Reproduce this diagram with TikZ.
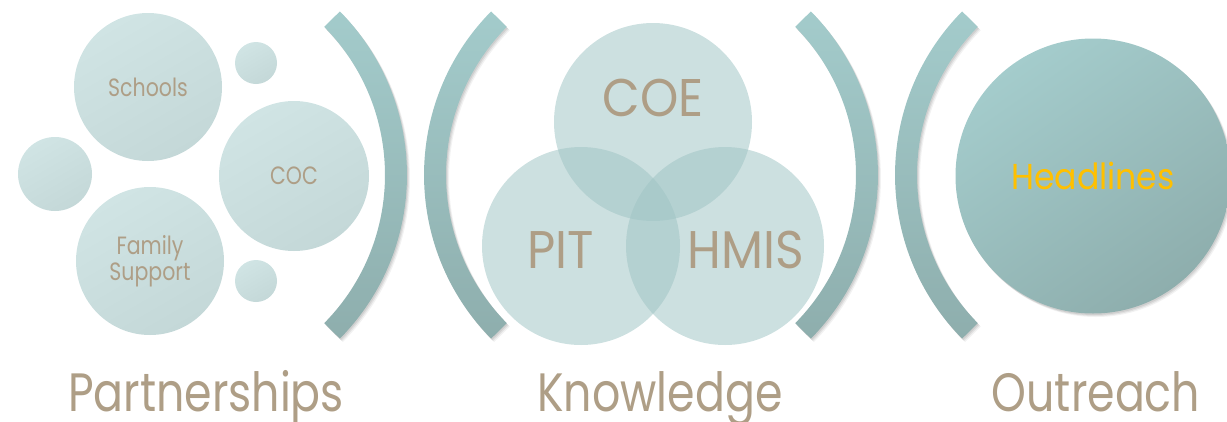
\documentclass[tikz,border=0pt]{standalone}
\usepackage{fontspec}
\newfontfamily\twfont[FakeStretch=0.82]{Poppins}
\newfontfamily\twwide[FakeStretch=0.92]{Poppins}
\usetikzlibrary{calc,shadows}
\definecolor{taupe}{HTML}{AE9E86}
\definecolor{bubA}{HTML}{D0E4E4}
\definecolor{bubB}{HTML}{C4D8D8}
\definecolor{vennC}{HTML}{9FC4C4}
\definecolor{brA}{HTML}{A3CBCB}
\definecolor{brB}{HTML}{8EAEAD}
\definecolor{headA}{HTML}{A4CCCC}
\definecolor{headB}{HTML}{8EAEAD}
\definecolor{gold}{HTML}{FFC000}
\begin{document}
\begin{tikzpicture}[x=1pt,y=-1pt,
  softshadow/.style={
    general shadow={fill=black,opacity=.05,shadow xshift=3pt,shadow yshift=-3.5pt},
    general shadow={fill=black,opacity=.07,shadow xshift=2pt,shadow yshift=-2.5pt},
    general shadow={fill=black,opacity=.08,shadow xshift=1pt,shadow yshift=-1.5pt}},
  bracket/.style={softshadow,top color=brA,bottom color=brB},
  bub/.style={circle,inner sep=0pt,top color=bubA,bottom color=bubB,shading angle=30,
    text=taupe,align=center,font=\twfont\fontsize{25}{27}\selectfont},
  venn/.style={circle,inner sep=0pt,fill=vennC,fill opacity=0.53},
  vlbl/.style={text=taupe,font=\twwide\fontsize{53}{53}\selectfont,inner sep=0pt},
  bottomlbl/.style={text=taupe,anchor=base,inner sep=0pt,font=\twfont\fontsize{54}{54}\selectfont},
  headc/.style={circle,inner sep=0pt,softshadow,top color=headA,bottom color=headB,shading angle=35,
    text=gold,font=\twwide\fontsize{36}{36}\selectfont}
]
\useasboundingbox (0,0) rectangle (1227,421);

% brackets
\path[bracket] ($(174,175)+(-44.6:233)$) arc[start angle=-44.6,end angle=44.6,radius=233]
  -- ($(174,175)+(44.6:211)$) arc[start angle=44.6,end angle=-44.6,radius=211] -- cycle;
\path[bracket] ($(657,175)+(135.4:233)$) arc[start angle=135.4,end angle=224.6,radius=233]
  -- ($(657,175)+(224.6:211)$) arc[start angle=224.6,end angle=135.4,radius=211] -- cycle;
\path[bracket] ($(645,175)+(-44.6:233)$) arc[start angle=-44.6,end angle=44.6,radius=233]
  -- ($(645,175)+(44.6:211)$) arc[start angle=44.6,end angle=-44.6,radius=211] -- cycle;
\path[bracket] ($(1128,175)+(135.4:233)$) arc[start angle=135.4,end angle=224.6,radius=233]
  -- ($(1128,175)+(224.6:211)$) arc[start angle=224.6,end angle=135.4,radius=211] -- cycle;

% partnerships bubbles
\node[bub,minimum size=148pt] (schools) at (148,87) {Schools};
\node[bub,minimum size=42pt] (small1) at (256,63) {};
\node[bub,minimum size=74pt] (left) at (55,174) {};
\node[bub,minimum size=150pt] (coc) at (294,176) {COC};
\node[bub,minimum size=148pt] (family) at (150,261) {Family\\[-1pt]Support};
\node[bub,minimum size=42pt] (small2) at (256,281) {};

% knowledge venn
\node[venn,minimum size=198pt] (coe) at (653,122) {};
\node[venn,minimum size=198pt] (pit) at (581,246) {};
\node[venn,minimum size=198pt] (hmis) at (725,246) {};
\node[vlbl] (coelbl) at (653,98) {COE};
\node[vlbl] (pitlbl) at (561,250) {PIT};
\node[vlbl] (hmislbl) at (746,250) {HMIS};

% outreach
\node[headc,minimum size=275pt] (head) at (1093,176) {Headlines};

% bottom labels
\node[bottomlbl] (partnerships) at (206,411) {Partnerships};
\node[bottomlbl] (knowledge) at (660,411) {Knowledge};
\node[bottomlbl] (outreach) at (1096,411) {Outreach};
\end{tikzpicture}
\end{document}
